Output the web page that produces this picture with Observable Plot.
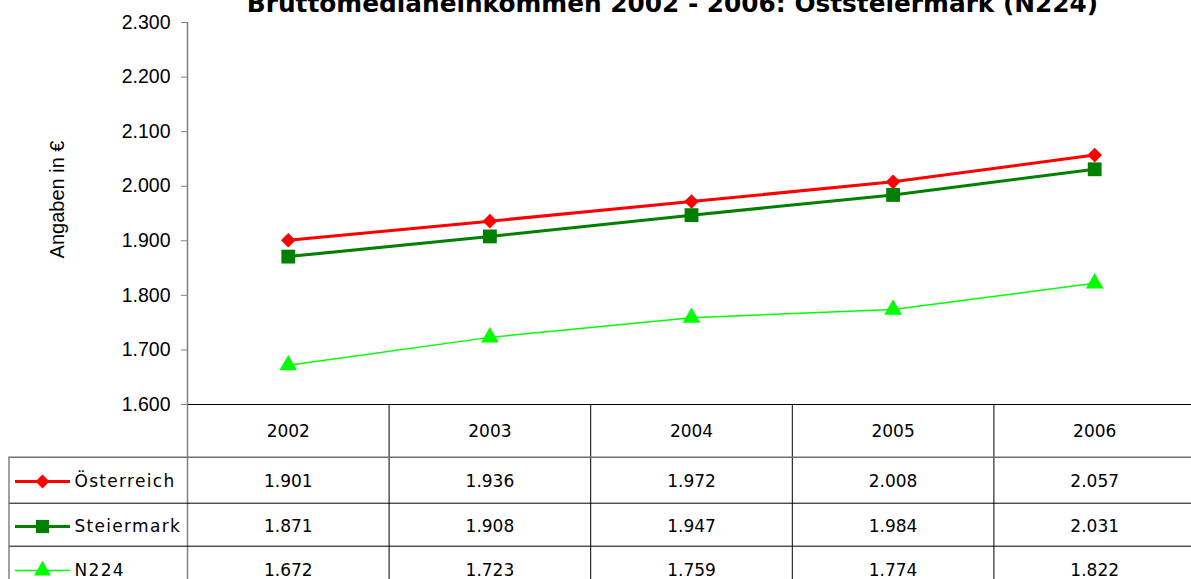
<!DOCTYPE html>
<html>
<head>
<meta charset="utf-8">
<script src="https://cdn.jsdelivr.net/npm/d3@7"></script>
<script src="https://cdn.jsdelivr.net/npm/@observablehq/plot@0.6"></script>
<style>
  html, body { margin: 0; padding: 0; background: #fff; overflow: hidden; }
  #chart svg { display: block; }
</style>
</head>
<body>
<div id="chart"></div>
<script>
// ---- data ----
const titleText = "Bruttomedianeinkommen 2002 - 2006: Oststeiermark (N224)";
const yLabel = "Angaben in €";
const years = [2002, 2003, 2004, 2005, 2006];
const seriesNames = ["Österreich", "Steiermark", "N224"];
const oesterreich = [1901, 1936, 1972, 2008, 2057];
const steiermark = [1871, 1908, 1947, 1984, 2031];
const n224 = [1672, 1723, 1759, 1774, 1822];
const seriesColors = ["#ff0000", "#008000", "#00ff00"];
const seriesSymbols = ["diamond2", "square", "triangle"];
const seriesWidths = [3, 3, 1.5];
const seriesR = [6.6, 7.8, 6.6];
const yTicks = [1600, 1700, 1800, 1900, 2000, 2100, 2200, 2300];

// ---- derived tables ----
const seriesValues = [oesterreich, steiermark, n224];
const points = seriesNames.flatMap((name, i) =>
  years.map((year, j) => ({series: name, year, value: seriesValues[i][j], i})));

const de = d3.formatLocale({decimal: ",", thousands: ".", grouping: [3], currency: ["", " €"]});
const fmt = de.format(",.0f");

// layout (pixels)
const W = 1191, H = 579;
const xDomain = [years[0] - 0.5, years[years.length - 1] + 0.5];
const xRange = [187, 1195];
const yDomain = [1600, 2300];
const yRange = [404, 22];
const xs = Plot.scale({x: {domain: xDomain, range: xRange}});
const ys = Plot.scale({y: {domain: yDomain, range: yRange}});
const px = v => xs.invert(v);
const py = v => ys.invert(v);

const colEdges = years.map(y => y - 0.5).concat([years[years.length - 1] + 0.5]);
const rowLines = [456.7, 502.7, 545.7, 589].map(py);
const headerY = py(431);
const rowY = [481, 526, 570].map(py);
const tableLeft = px(8.5);
const legLine = [px(15), px(70)];
const legMark = px(42);
const legText = px(74);

const tableFont = "DejaVu Sans";
const numStyle = {fontFamily: tableFont, fontSize: 17, fill: "#000"};

const rows = seriesNames.flatMap((name, i) =>
  years.map((year, j) => ({year, y: rowY[i], label: fmt(seriesValues[i][j])})));
const legend = seriesNames.map((name, i) => ({name, i, y: rowY[i]}));

const chart = Plot.plot({
  width: W, height: H,
  marginLeft: 187, marginRight: 0, marginTop: 22, marginBottom: H - 404,
  x: {domain: xDomain, range: xRange, axis: null},
  y: {domain: yDomain, range: yRange, axis: null},
  style: {background: "#fff", fontFamily: tableFont, fontSize: "16px", color: "#000"},
  marks: [
    // title
    Plot.text([titleText], {frameAnchor: "top", dx: -17, dy: -11, lineAnchor: "bottom",
      fontFamily: "DejaVu Sans", fontWeight: "bold", fontSize: 24.8, fill: "#000"}),
    // y axis label
    Plot.text([yLabel], {frameAnchor: "left", dx: -130, dy: -14, rotate: -90, textAnchor: "middle",
      fontFamily: "Liberation Sans", fontSize: 20, fill: "#000"}),
    // y axis
    Plot.axisY({ticks: yTicks, tickFormat: fmt, tickSize: 6, tickPadding: 11,
      stroke: "#808080", fill: "#000", fontFamily: "Liberation Sans", fontSize: 19.5, label: null}),
    Plot.ruleX([xDomain[0]], {y1: yDomain[0], y2: yDomain[1], stroke: "#808080", strokeWidth: 1.5}),
    // table grid
    Plot.ruleY([yDomain[0]], {x1: xDomain[0], x2: xDomain[1], stroke: "#000", strokeWidth: 1}),
    Plot.ruleX([colEdges[0]], {y1: yDomain[0], y2: rowLines[3], stroke: "#808080", strokeWidth: 1.5}),
    Plot.ruleX(colEdges.slice(1), {y1: yDomain[0], y2: rowLines[3], stroke: "#000", strokeWidth: 1}),
    Plot.ruleY(rowLines.slice(0, 1), {x1: tableLeft, x2: xDomain[1], stroke: "#707070", strokeWidth: 1.5}),
    Plot.ruleY(rowLines.slice(1), {x1: tableLeft, x2: xDomain[1], stroke: "#000", strokeWidth: 1}),
    Plot.ruleX([tableLeft], {y1: rowLines[0], y2: rowLines[3], stroke: "#808080", strokeWidth: 1.5}),
    // table header + values
    Plot.text(years, {x: d => d, y: headerY, text: d => String(d), ...numStyle}),
    Plot.text(rows, {x: "year", y: "y", text: "label", ...numStyle}),
    // legend column
    ...legend.map(d => Plot.ruleY([d.y], {x1: legLine[0], x2: legLine[1], stroke: seriesColors[d.i], strokeWidth: seriesWidths[d.i]})),
    ...legend.map(d => Plot.dot([d], {x: legMark, y: "y", symbol: seriesSymbols[d.i], fill: seriesColors[d.i], r: seriesR[d.i] * 0.95, stroke: "none"})),
    Plot.text(legend, {x: legText, y: "y", text: "name", textAnchor: "start", ...numStyle}),
    // series lines + markers
    ...seriesNames.map((name, i) =>
      Plot.line(points.filter(d => d.i === i), {x: "year", y: "value", stroke: seriesColors[i], strokeWidth: seriesWidths[i]})),
    ...seriesNames.map((name, i) =>
      Plot.dot(points.filter(d => d.i === i), {x: "year", y: "value", symbol: seriesSymbols[i], fill: seriesColors[i], r: seriesR[i], stroke: "none"}))
  ]
});
// wider letter spacing for the legend labels (as in the original table)
d3.select(chart).selectAll("text")
  .filter(function () { return seriesNames.includes(this.textContent); })
  .attr("letter-spacing", 1.3);
document.getElementById("chart").appendChild(chart);
</script>
</body>
</html>
